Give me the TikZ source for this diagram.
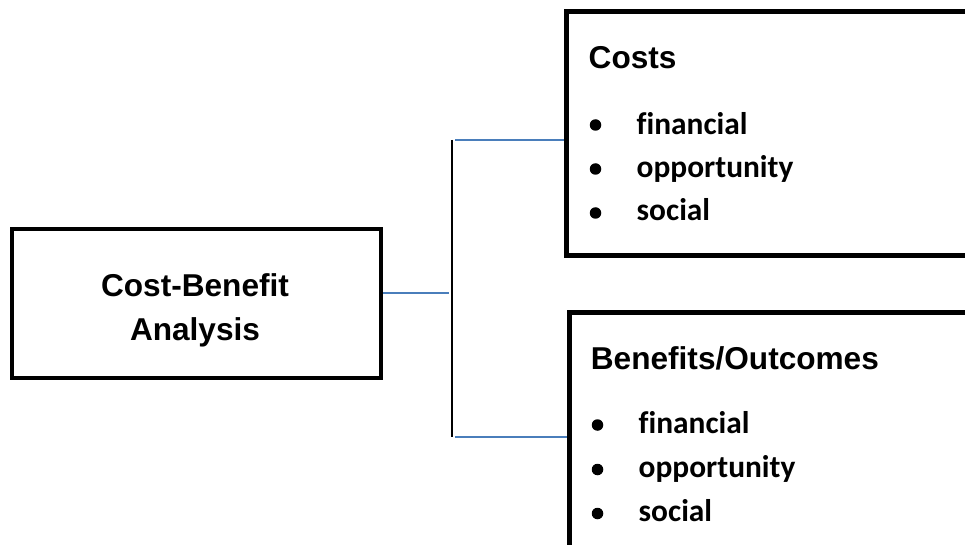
\documentclass[tikz,border=0pt]{standalone}
\usepackage{fontspec}
\setmainfont{Liberation Sans}
\newfontfamily\itemfont{Carlito}[Ligatures=NoCommon]
\definecolor{linkblue}{RGB}{74,126,187}
\begin{document}
\begin{tikzpicture}[x=1pt,y=-1pt,
  framebox/.style={draw=black,rectangle,inner sep=0pt},
  headtext/.style={inner sep=0pt,font=\fontsize{31.6}{38}\selectfont\bfseries},
  itemtext/.style={inner sep=0pt,anchor=base west,font=\itemfont\fontsize{31.4}{38}\selectfont\bfseries},
  dot/.style={circle,fill=black,inner sep=0pt,minimum size=11.5},
  bluelink/.style={draw=linkblue,line width=2},
  trunk/.style={draw=black,line width=1.6}]
\clip (0,0) rectangle (965,545);
\fill[white] (0,0) rectangle (965,545);

% main box
\node[framebox,line width=4,minimum width=369,minimum height=149] (cba) at (196.5,303.5) {};
\node[headtext,anchor=base] (cbaA) at (195,296) {Cost-Benefit};
\node[headtext,anchor=base] (cbaB) at (195,340) {Analysis};

% costs box (runs past the right edge)
\node[framebox,line width=5,minimum width=533.5,minimum height=243.5] (costs) at (833.25,133.75) {};
\node[headtext,anchor=base west] (costsT) at (588.5,69) {Costs};
\node[dot] (c1) at (595.5,125) {};
\node[dot] (c2) at (595.5,169) {};
\node[dot] (c3) at (595.5,213) {};
\node[itemtext] (c1t) at (636.5,135) {financial};
\node[itemtext] (c2t) at (636.5,178) {opportunity};
\node[itemtext] (c3t) at (636.5,221) {social};

% benefits box (runs past the right and bottom edges)
\node[framebox,line width=5,minimum width=531,minimum height=388] (benefits) at (834.5,506) {};
\node[headtext,anchor=base west] (benT) at (590.7,369) {Benefits/Outcomes};
\node[dot] (d1) at (597.5,425) {};
\node[dot] (d2) at (597.5,469.5) {};
\node[dot] (d3) at (597.5,513.5) {};
\node[itemtext] (d1t) at (638.5,433) {financial};
\node[itemtext] (d2t) at (638.5,477) {opportunity};
\node[itemtext] (d3t) at (638.5,521) {social};

% connectors
\coordinate (jm) at (449,293);
\coordinate (vt) at (452,140);
\coordinate (vb) at (452,437);
\coordinate (ht) at (455,140);
\coordinate (hb) at (455,437);
\draw[bluelink] (cba.east |- jm) -- (jm);
\draw[trunk] (vt) -- (vb);
\draw[bluelink] (ht) -- (costs.west |- ht);
\draw[bluelink] (hb) -- (benefits.west |- hb);
\end{tikzpicture}
\end{document}
